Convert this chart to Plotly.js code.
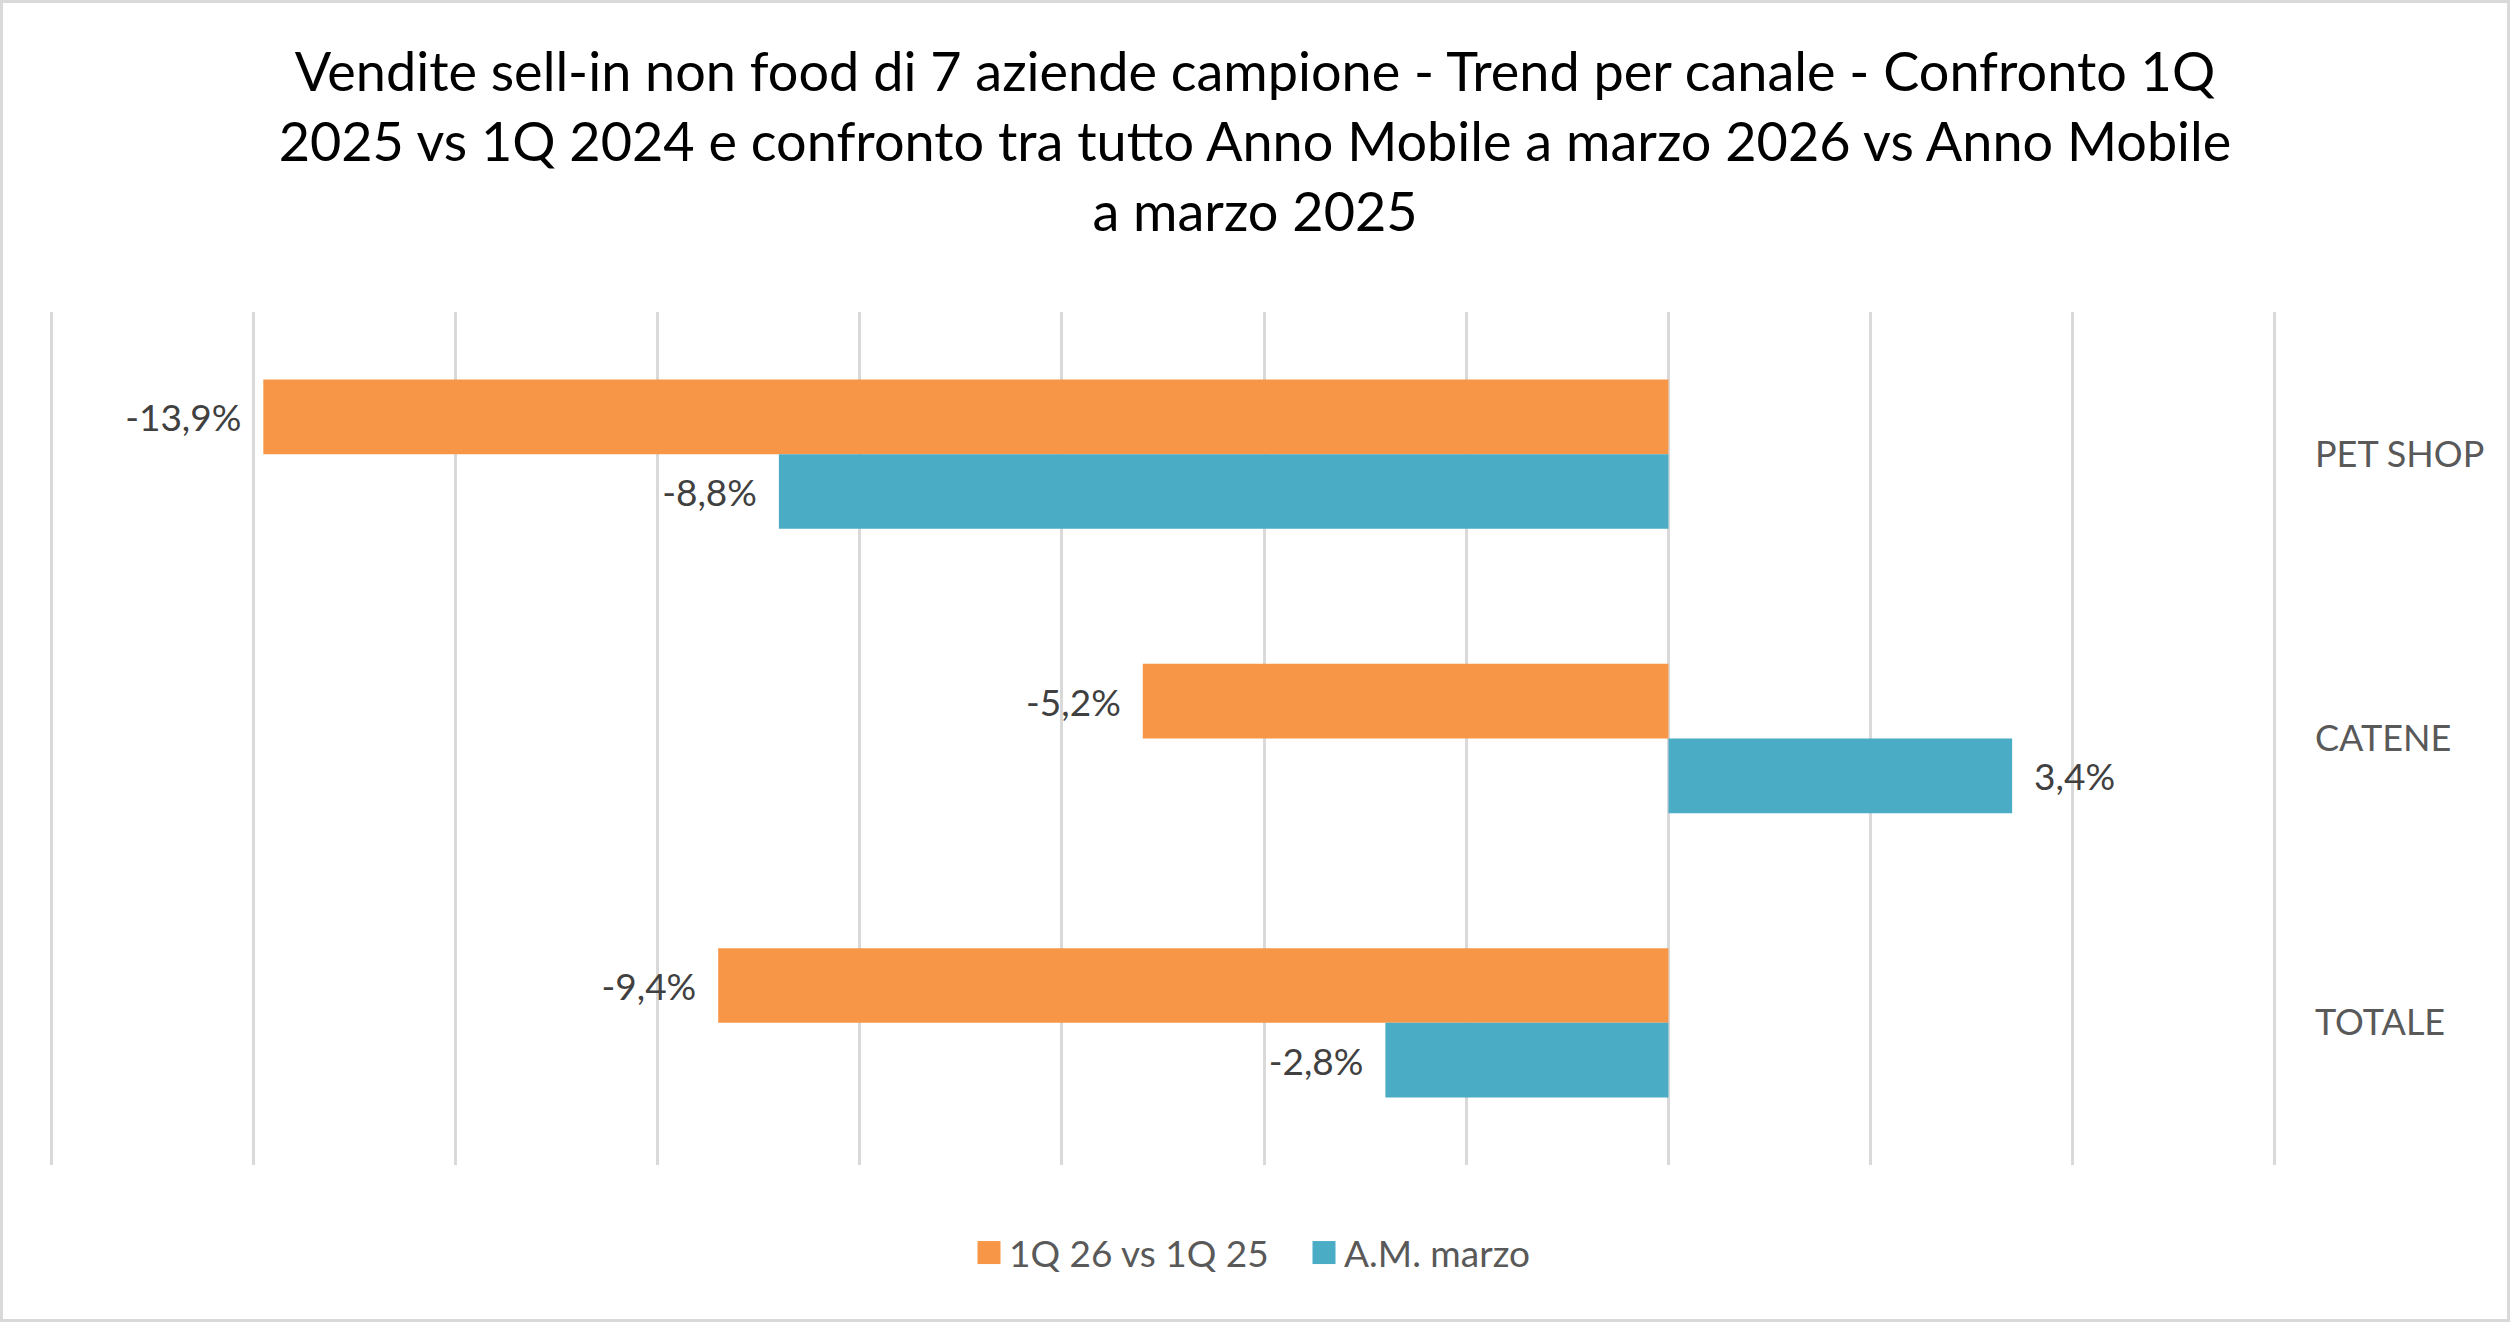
<!DOCTYPE html>
<html>
<head>
<meta charset="utf-8">
<script src="https://cdn.plot.ly/plotly-3.0.1.min.js"></script>
<style>
  body { margin: 0; background: #fff; }
  #grafico { width: 2504px; height: 1316px; border: 3px solid #d9d9d9; }
</style>
</head>
<body>
<div id="grafico"></div>
<script>
// dati
const canali = ['PET SHOP', 'CATENE', 'TOTALE'];
const trimestre = [-13.9, -5.2, -9.4];   // 1Q 26 vs 1Q 25
const annoMobile = [-8.8, 3.4, -2.8];    // A.M. marzo
const serie = ['1Q 26 vs 1Q 25', 'A.M. marzo'];
const colori = ['#F79646', '#4BACC6'];

const font = 'Lato, sans-serif';

// etichetta con virgola decimale, un po' di spazio dalla barra
function etichetta(v) {
  const s = v.toFixed(1).replace('.', ',') + '%';
  const pad = '\u00a0\u00a0';
  return v < 0 ? s + pad : pad + s;
}

function traccia(valori, nome, colore) {
  return {
    type: 'bar',
    orientation: 'h',
    name: nome,
    x: valori,
    y: canali,
    marker: { color: colore },
    text: valori.map(etichetta),
    textposition: 'outside',
    textfont: { family: font, size: 37, color: '#404040' },
    constraintext: 'none',
    cliponaxis: false,
    hoverinfo: 'skip'
  };
}

const data = [
  traccia(trimestre, serie[0], colori[0]),
  traccia(annoMobile, serie[1], colori[1])
];

const layout = {
  width: 2504,
  height: 1316,
  margin: { l: 45, r: 229, t: 309, b: 154 },
  paper_bgcolor: '#ffffff',
  plot_bgcolor: '#ffffff',
  font: { family: font, color: '#595959' },
  title: {
    text: 'Vendite sell-in non food di 7 aziende campione - Trend per canale - Confronto 1Q<br>' +
          '2025 vs 1Q 2024 e confronto tra tutto Anno Mobile a marzo 2026 vs Anno Mobile<br>' +
          'a marzo 2025',
    font: { family: font, size: 54, color: '#000000' },
    x: 0.5, xref: 'container', xanchor: 'center',
    y: 1 - 88 / 1316, yref: 'container', yanchor: 'top'
  },
  barmode: 'group',
  bargap: 0.475,
  bargroupgap: 0,
  xaxis: {
    // un filo oltre -16 e 6 così le griglie ai bordi restano visibili
    range: [-16.03, 6.03],
    dtick: 2,
    tick0: 0,
    showticklabels: false,
    showgrid: true,
    gridcolor: '#d9d9d9',
    gridwidth: 3,
    zeroline: false,
    showline: false,
    fixedrange: true
  },
  yaxis: {
    type: 'category',
    autorange: 'reversed',
    side: 'right',
    showgrid: false,
    zeroline: false,
    showline: false,
    ticks: '',
    ticklabelstandoff: 36,
    tickfont: { family: font, size: 36, color: '#595959' },
    fixedrange: true
  },
  showlegend: true,
  legend: {
    orientation: 'h',
    xref: 'container', yref: 'container',
    x: 966 / 2504, xanchor: 'left',
    y: 1 - 1250 / 1316, yanchor: 'middle',
    entrywidth: 290,
    entrywidthmode: 'pixels',
    font: { family: font, size: 37, color: '#595959' },
    itemclick: false, itemdoubleclick: false
  }
};

const config = { displayModeBar: false, responsive: false };

Plotly.newPlot('grafico', data, layout, config).then(function (gd) {
  // quadratini della legenda più grandi, come nell'originale
  gd.querySelectorAll('.legend .legendpoints path').forEach(function (p) {
    p.setAttribute('d', 'M11.5,11.5H-11.5V-11.5H11.5Z');
  });
});
</script>
</body>
</html>
